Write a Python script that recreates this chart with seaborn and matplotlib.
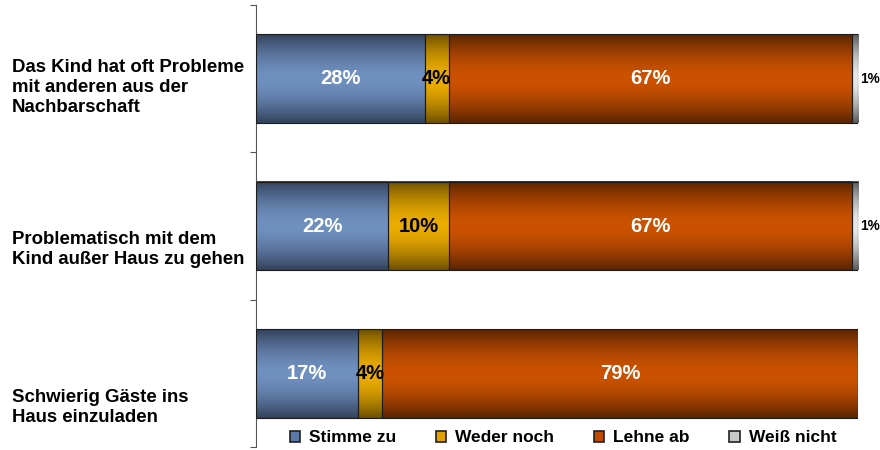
#------------------------------------------------------------------------------#
#              Zustimmung zu Aussagen ueber das Kind (gestapelte Balken)
#------------------------------------------------------------------------------#

import numpy as np
import pandas as pd
import matplotlib
matplotlib.use("Agg")
import matplotlib.pyplot as plt
import matplotlib.transforms as mtransforms
from matplotlib.colors import to_rgb
from matplotlib.patches import Patch
import seaborn as sns

# Data ------------------------------------------------------------------------#

items = ["Das Kind hat oft Probleme\nmit anderen aus der\nNachbarschaft",
         "Problematisch mit dem\nKind außer Haus zu gehen",
         "Schwierig Gäste ins\nHaus einzuladen"]
answers = ["Stimme zu", "Weder noch", "Lehne ab", "Weiß nicht"]

stimme_zu = [28, 22, 17]
weder_noch = [4, 10, 4]
lehne_ab = [67, 67, 79]
weiss_nicht = [1, 1, 0]

# Styles ----------------------------------------------------------------------#

series = [stimme_zu, weder_noch, lehne_ab, weiss_nicht]
shades = [("#33425c", "#7090c0"),   # (dark edge, light centre)
          ("#6e5000", "#ecad00"),
          ("#5a2400", "#cc5200"),
          ("#5a5a5a", "#e8e8e8")]
legend_colors = ["#5a78a8", "#e0a000", "#c04a00", "#c8c8c8"]
label_colors = ["white", "black", "white", "black"]
label_offsets = [0.06, 0.16, 0.23]   # item label shift below bar centre

sns.set_style("white")
plt.rcParams['font.family'] = ['Liberation Sans', 'DejaVu Sans']
plt.rcParams['text.color'] = 'black'

fig = plt.figure(figsize=(8.8, 4.5), dpi=100)
ax = fig.add_axes([256 / 880, 3 / 450, 602 / 880, 442 / 450])

# Stacked bars -----------------------------------------------------------------#
left = np.zeros(len(items))
groups = []
for vals in series:
    n0 = len(ax.patches)
    sns.barplot(x=vals, y=items, orient="h", left=left, width=0.6,
                color=legend_colors[len(groups)], ax=ax, saturation=1)
    groups.append((ax.patches[n0:], vals, left.copy()))
    left = left + np.array(vals)

# vertical gradient (dark - light - dark) in every segment
t = np.linspace(0, 1, 80)
w = 1 - np.abs(2 * t - 1) ** 1.7
for k, (patches, vals, lefts) in enumerate(groups):
    dark, light = np.array(to_rgb(shades[k][0])), np.array(to_rgb(shades[k][1]))
    grad = (dark[None, :] + (light - dark)[None, :] * w[:, None])[:, None, :]
    for p, v, l0 in zip(patches, vals, lefts):
        x0, y0 = p.get_x(), p.get_y()
        pw, ph = p.get_width(), p.get_height()
        if v > 0:
            ax.imshow(grad, extent=[x0, x0 + pw, y0 + ph, y0], aspect="auto",
                      interpolation="bicubic", zorder=2)
        p.set_facecolor("none")
        p.set_edgecolor("#1c1c1c")
        p.set_linewidth(0.8)
        p.set_zorder(3)
        if v == 0:
            continue
        yc = y0 + ph / 2
        if k == 3:
            ax.text(x0 + pw + 0.3, yc, f"{v}%", ha="left", va="center",
                    fontsize=9.8, fontweight="bold", color="black", zorder=4)
        else:
            ax.text(x0 + pw / 2, yc, f"{v}%", ha="center", va="center",
                    fontsize=14.5, fontweight="bold", color=label_colors[k], zorder=4)

ax.set_xlim(0, 100)
ax.set_ylim(2.5, -0.5)
ax.set_xticks([])
ax.set_yticks(range(len(items)))
ax.tick_params(axis="y", which="major", length=0, labelleft=False)
ax.set_yticks([-0.5, 0.5, 1.5, 2.5], minor=True)
ax.tick_params(axis="y", which="minor", left=True, length=4, width=0.8,
               color="#555555", direction="out")
ax.set_xlabel("")
ax.set_ylabel("")
for s in ["top", "right", "bottom"]:
    ax.spines[s].set_visible(False)
ax.spines["left"].set_color("#555555")
ax.spines["left"].set_linewidth(0.8)

# item labels, left aligned at the figure edge
trans = mtransforms.blended_transform_factory(fig.transFigure, ax.transData)
for i, txt in enumerate(items):
    ax.text(12 / 880, i + label_offsets[i], txt, transform=trans, ha="left",
            va="center", fontsize=13.4, fontweight="bold", linespacing=1.2,
            color="black")

# Legend -----------------------------------------------------------------------#
handles = [Patch(facecolor=c, edgecolor="#202020", linewidth=1.2) for c in legend_colors]
fig.legend(handles, answers, loc="center", bbox_to_anchor=(563 / 880, 12 / 450),
           ncol=4, frameon=False, prop=dict(weight="bold", size=12.5),
           labelcolor="black",
           handlelength=0.6, handleheight=0.6, handletextpad=0.5, columnspacing=2.3)

fig.savefig("out.png", dpi=100)
